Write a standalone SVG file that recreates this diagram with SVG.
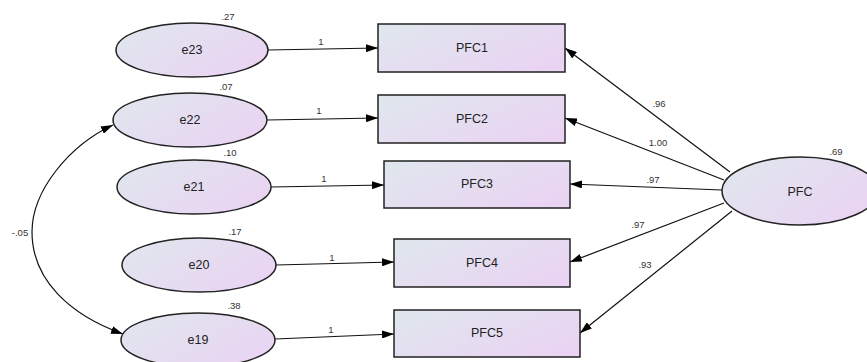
<svg xmlns="http://www.w3.org/2000/svg" width="867" height="362" viewBox="0 0 867 362">
  <defs>
    <linearGradient id="fill" x1="0" y1="0.2" x2="1" y2="0.8">
      <stop offset="0" stop-color="#e0e6ee"/>
      <stop offset="1" stop-color="#ead3f3"/>
    </linearGradient>
    <marker id="arrow" viewBox="0 0 12 8" refX="12" refY="4" markerWidth="12" markerHeight="8" markerUnits="userSpaceOnUse" orient="auto-start-reverse">
      <path d="M0,0 L12,4 L0,8 Z" fill="#000"/>
    </marker>
    <style>
      .node { fill: url(#fill); stroke: #222; stroke-width: 1.5; }
      .name { font-family: "Liberation Sans", Arial, sans-serif; font-size: 12.5px; fill: #222; text-anchor: middle; dominant-baseline: central; }
      .est { font-family: "Liberation Sans", Arial, sans-serif; font-size: 9.5px; fill: #333; text-anchor: middle; }
      .link { fill: none; stroke: #111; stroke-width: 1.2; marker-end: url(#arrow); }
    </style>
  </defs>
  <rect width="867" height="362" fill="#fff"/>

  <!-- paths: errors to indicators, factor loadings, covariance -->
  <g id="connectors">
    <line class="link" x1="268" y1="50" x2="378" y2="48"/>
    <line class="link" x1="267" y1="120" x2="378" y2="118"/>
    <line class="link" x1="271" y1="187" x2="384" y2="185"/>
    <line class="link" x1="276" y1="265" x2="394" y2="262"/>
    <line class="link" x1="275" y1="339" x2="394" y2="334"/>
    <line class="link" x1="730" y1="172" x2="565" y2="48"/>
    <line class="link" x1="724" y1="180" x2="565" y2="118"/>
    <line class="link" x1="722" y1="190" x2="570" y2="184"/>
    <line class="link" x1="724" y1="203" x2="570" y2="262"/>
    <line class="link" x1="732" y1="211" x2="580" y2="333"/>
    <path class="link" marker-start="url(#arrow)" d="M113,125 C70,145 32,190 32,232 C32,280 70,315 123,334"/>
    <text class="est" x="321" y="45">1</text>
    <text class="est" x="319" y="114">1</text>
    <text class="est" x="324" y="182">1</text>
    <text class="est" x="332" y="261">1</text>
    <text class="est" x="331" y="333">1</text>
    <text class="est" x="659" y="107">.96</text>
    <text class="est" x="658" y="146">1.00</text>
    <text class="est" x="653" y="183">.97</text>
    <text class="est" x="638" y="228">.97</text>
    <text class="est" x="645" y="268">.93</text>
    <text class="est" x="20" y="236">-.05</text>
  </g>

  <g id="e23">
    <ellipse class="node" cx="192" cy="50" rx="76" ry="27"/>
    <text class="name" x="192" y="50">e23</text>
    <text class="est" x="228" y="20">.27</text>
  </g>
  <g id="e22">
    <ellipse class="node" cx="190" cy="120" rx="77" ry="27"/>
    <text class="name" x="190" y="120">e22</text>
    <text class="est" x="226" y="90">.07</text>
  </g>
  <g id="e21">
    <ellipse class="node" cx="194" cy="187" rx="77" ry="27"/>
    <text class="name" x="194" y="187">e21</text>
    <text class="est" x="230" y="156">.10</text>
  </g>
  <g id="e20">
    <ellipse class="node" cx="199" cy="265" rx="77" ry="27"/>
    <text class="name" x="199" y="265">e20</text>
    <text class="est" x="235" y="235">.17</text>
  </g>
  <g id="e19">
    <ellipse class="node" cx="198" cy="340" rx="77" ry="27"/>
    <text class="name" x="198" y="340">e19</text>
    <text class="est" x="234" y="309">.38</text>
  </g>

  <g id="PFC1">
    <rect class="node" x="378" y="24" width="187" height="48"/>
    <text class="name" x="472" y="48">PFC1</text>
  </g>
  <g id="PFC2">
    <rect class="node" x="378" y="95" width="187" height="48"/>
    <text class="name" x="472" y="119">PFC2</text>
  </g>
  <g id="PFC3">
    <rect class="node" x="384" y="161" width="186" height="47"/>
    <text class="name" x="477" y="184">PFC3</text>
  </g>
  <g id="PFC4">
    <rect class="node" x="394" y="239" width="176" height="48"/>
    <text class="name" x="482" y="263">PFC4</text>
  </g>
  <g id="PFC5">
    <rect class="node" x="394" y="310" width="186" height="47"/>
    <text class="name" x="487" y="333">PFC5</text>
  </g>

  <g id="PFC">
    <ellipse class="node" cx="800" cy="191" rx="78" ry="34"/>
    <text class="name" x="800" y="192">PFC</text>
    <text class="est" x="836" y="155">.69</text>
  </g>
</svg>
